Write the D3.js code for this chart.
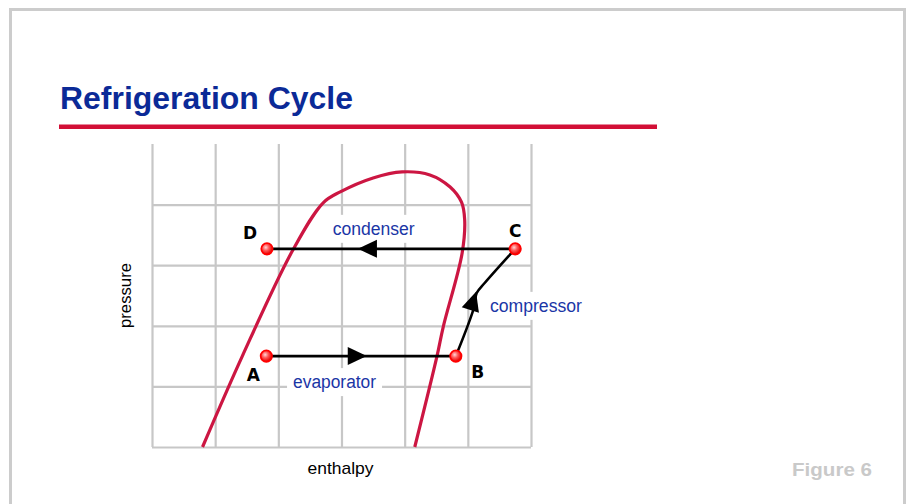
<!DOCTYPE html>
<html>
<head>
<meta charset="utf-8">
<script src="https://cdn.jsdelivr.net/npm/d3@7"></script>
<style>
  body { margin: 0; background: #fff; }
  svg { display: block; font-family: "Liberation Sans", Arial, sans-serif; }
</style>
</head>
<body>
<div class="chart"></div>
<script>
// grid ticks (enthalpy across, pressure up)
const enthalpyTicks = [0, 1, 2, 3, 4, 5, 6];
const pressureTicks = [0, 1, 2, 3, 4];

// saturation dome
const domeX = [0.8, 1.43, 2.23, 2.71, 2.98, 3.5, 3.96, 4.4, 4.72, 4.9, 4.95, 4.91, 4.61, 4.51, 4.16];
const domeY = [0, 1.5, 3.25, 4.03, 4.21, 4.44, 4.54, 4.49, 4.29, 4.04, 3.75, 3.2, 1.98, 1.49, 0];

// cycle state points
const pointNames = ["A", "B", "C", "D"];
const pointX = [1.81, 4.81, 5.75, 1.82];
const pointY = [1.5, 1.5, 3.27, 3.27];

// compressor path B -> C
const compX = [4.81, 5.10, 5.14, 5.27, 5.75];
const compY = [1.5, 2.31, 2.54, 2.71, 3.27];

// process names and where they sit
const processNames = ["condenser", "evaporator", "compressor"];
const processX = [3.51, 2.89, 5.35];
const processY = [3.27, 1.5, 2.23];

// arrow tips and the point they come from
const arrowTipX = [3.26, 3.40, 5.13];
const arrowTipY = [3.27, 1.5, 2.56];
const arrowFromX = [5.75, 1.81, 4.81];
const arrowFromY = [3.27, 1.5, 1.5];

const width = 911;
const height = 504;
const margin = {top: 144, right: 380, bottom: 57, left: 152};

const svg = d3.select(".chart")
  .append("svg")
    .attr("width", width)
    .attr("height", height);

// slide frame
svg.append("rect")
  .attr("x", 10.5).attr("y", 9.5)
  .attr("width", 894).attr("height", 520)
  .attr("fill", "none")
  .attr("stroke", "#cccccc")
  .attr("stroke-width", 3);

// title + underline
svg.append("text")
  .attr("x", 60).attr("y", 109)
  .attr("font-size", 31)
  .attr("font-weight", "bold")
  .attr("fill", "#0b2a97")
  .attr("textLength", 293)
  .attr("lengthAdjust", "spacingAndGlyphs")
  .text("Refrigeration Cycle");

svg.append("rect")
  .attr("x", 59).attr("y", 124.5)
  .attr("width", 598).attr("height", 4.5)
  .attr("fill", "#d20f36");

const x = d3.scaleLinear().domain([0, 6]).range([margin.left, width - margin.right]);
const y = d3.scaleLinear().domain([0, 5]).range([height - margin.bottom, margin.top]);

// grid
const grid = svg.append("g").attr("class", "grid");
grid.append("g")
  .attr("transform", `translate(0, ${y(0)})`)
  .call(d3.axisBottom(x).tickValues(enthalpyTicks).tickSize(-(y(0) - y(5))).tickFormat(""));
grid.append("g")
  .attr("transform", `translate(${x(0)}, 0)`)
  .call(d3.axisLeft(y).tickValues(pressureTicks).tickSize(-(x(6) - x(0))).tickFormat(""));
grid.selectAll(".domain").remove();
grid.selectAll("line")
  .attr("stroke", "#c7c7c7")
  .attr("stroke-width", 2.2);

// white boxes behind the process names (drawn after text is measured)
const boxLayer = svg.append("g");

// dome
const line = d3.line().x(d => x(d[0])).y(d => y(d[1]));
svg.append("path")
  .attr("d", line.curve(d3.curveCatmullRom.alpha(0.5))(domeX.map((v, i) => [v, domeY[i]])))
  .attr("fill", "none")
  .attr("stroke", "#cc1642")
  .attr("stroke-width", 3.2);

// cycle lines
const pt = i => [pointX[i], pointY[i]];
const cycle = svg.append("g")
  .attr("fill", "none")
  .attr("stroke", "#000")
  .attr("stroke-width", 2.6);
cycle.append("path").attr("d", d3.line().x(d => x(d[0])).y(d => y(d[1]))([pt(3), pt(2)]));
cycle.append("path").attr("d", d3.line().x(d => x(d[0])).y(d => y(d[1]))([pt(0), pt(1)]));
cycle.append("path")
  .attr("d", d3.line().x(d => x(d[0])).y(d => y(d[1])).curve(d3.curveCatmullRom.alpha(0.5))(compX.map((v, i) => [v, compY[i]])));

// arrowheads
svg.append("g").selectAll("path")
  .data(arrowTipX.map((v, i) => i))
  .join("path")
    .attr("d", i => {
      const tx = x(arrowTipX[i]), ty = y(arrowTipY[i]);
      const dx = tx - x(arrowFromX[i]), dy = ty - y(arrowFromY[i]);
      const len = Math.hypot(dx, dy), ux = dx / len, uy = dy / len;
      const bx = tx - ux * 19, by = ty - uy * 19;
      return `M${tx},${ty}L${bx - uy * 9},${by + ux * 9}L${bx + uy * 9},${by - ux * 9}Z`;
    })
    .attr("fill", "#000");

// state points
const grad = svg.append("defs").append("radialGradient")
  .attr("id", "dot").attr("cx", "40%").attr("cy", "38%").attr("r", "60%");
grad.append("stop").attr("offset", "0%").attr("stop-color", "#ffd6d6");
grad.append("stop").attr("offset", "45%").attr("stop-color", "#ff5a5a");
grad.append("stop").attr("offset", "100%").attr("stop-color", "#e80000");

svg.append("g").selectAll("circle")
  .data(pointNames.map((n, i) => i))
  .join("circle")
    .attr("cx", i => x(pointX[i]))
    .attr("cy", i => y(pointY[i]))
    .attr("r", 5.7)
    .attr("fill", "url(#dot)")
    .attr("stroke", "#ff0000")
    .attr("stroke-width", 1.7);

// point letters
const letterOffset = {A: [-13, 25], B: [22, 22], C: [0, -12], D: [-17, -10]};
svg.append("g").selectAll("text")
  .data(pointNames.map((n, i) => i))
  .join("text")
    .attr("x", i => x(pointX[i]) + letterOffset[pointNames[i]][0])
    .attr("y", i => y(pointY[i]) + letterOffset[pointNames[i]][1])
    .attr("text-anchor", "middle")
    .attr("font-family", "'DejaVu Sans', sans-serif")
    .attr("font-weight", "bold")
    .attr("font-size", 17)
    .attr("fill", "#000")
    .text(i => pointNames[i]);

// process names
const processStyle = [
  {dy: -14, anchor: "middle", len: 82},
  {dy: 32, anchor: "middle", len: 83},
  {dy: 0, anchor: "start", len: 92}
];
const procText = svg.append("g").selectAll("text")
  .data(processNames.map((n, i) => i))
  .join("text")
    .attr("x", i => x(processX[i]))
    .attr("y", i => y(processY[i]) + processStyle[i].dy)
    .attr("text-anchor", i => processStyle[i].anchor)
    .attr("font-size", 18)
    .attr("textLength", i => processStyle[i].len)
    .attr("lengthAdjust", "spacingAndGlyphs")
    .attr("fill", "#1b36a6")
    .text(i => processNames[i]);

procText.each(function() {
  const b = this.getBBox();
  boxLayer.append("rect")
    .attr("x", b.x - 6).attr("y", b.y - 4)
    .attr("width", b.width + 12).attr("height", b.height + 8)
    .attr("fill", "#fff");
});

// axis titles
svg.append("text")
  .attr("transform", `translate(${x(0) - 21}, ${(y(0) + y(5)) / 2}) rotate(-90)`)
  .attr("text-anchor", "middle")
  .attr("font-size", 17)
  .attr("textLength", 65)
  .attr("lengthAdjust", "spacingAndGlyphs")
  .attr("fill", "#000")
  .text("pressure");

svg.append("text")
  .attr("x", (x(0) + x(6)) / 2 - 1)
  .attr("y", y(0) + 27)
  .attr("text-anchor", "middle")
  .attr("font-size", 17)
  .attr("textLength", 66)
  .attr("lengthAdjust", "spacingAndGlyphs")
  .attr("fill", "#000")
  .text("enthalpy");

// figure tag
svg.append("text")
  .attr("x", 872).attr("y", 476)
  .attr("text-anchor", "end")
  .attr("font-size", 19)
  .attr("font-weight", "bold")
  .attr("textLength", 80)
  .attr("lengthAdjust", "spacingAndGlyphs")
  .attr("fill", "#c9c9c9")
  .text("Figure 6");
</script>
</body>
</html>
